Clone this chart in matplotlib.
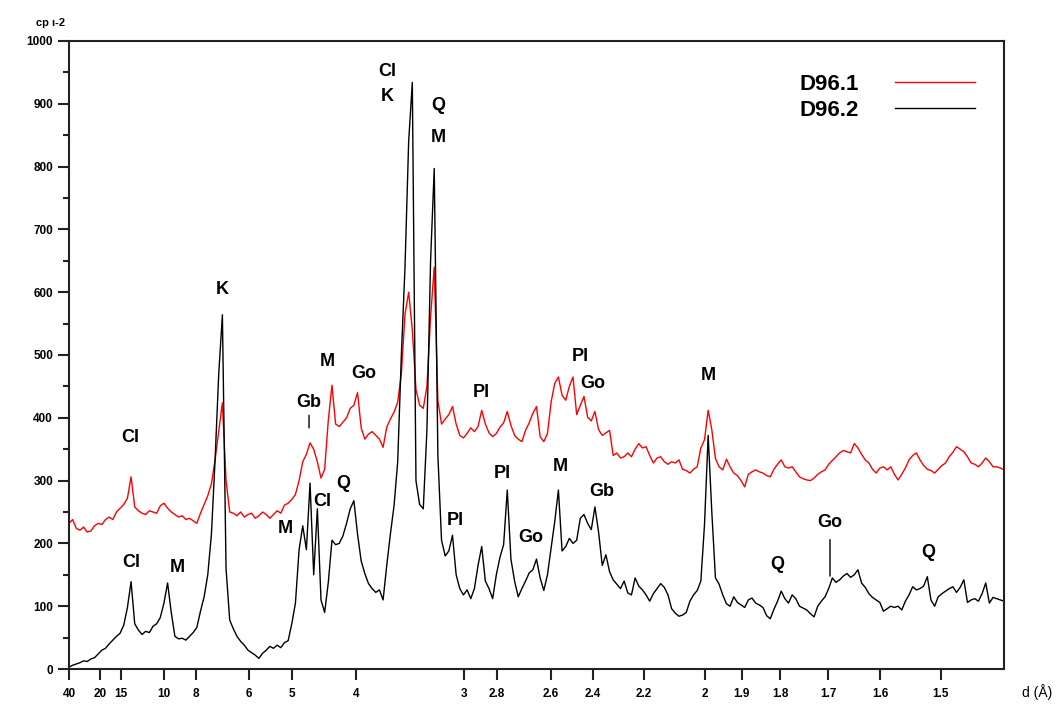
import numpy as np
import matplotlib.pyplot as plt

# scan grid (deg 2-theta) and counts
two_theta = np.round(np.arange(2.0, 66.01, 0.25), 2)

counts_d961 = [
    232, 238, 224, 221, 226, 218, 220, 228, 232, 230,
    238, 242, 238, 250, 256, 262, 272, 306, 258, 252,
    248, 246, 252, 250, 248, 260, 264, 256, 250, 246,
    242, 244, 238, 240, 236, 232, 248, 262, 276, 295,
    333, 378, 424, 300, 250, 248, 244, 250, 242, 246,
    248, 240, 244, 250, 246, 240, 246, 252, 248, 261,
    264, 270, 278, 300, 330, 342, 360, 350, 330, 304,
    318, 396, 452, 390, 386, 393, 400, 415, 420, 440,
    384, 366, 374, 378, 372, 366, 353, 385, 398, 409,
    425, 470, 565, 600, 540, 445, 420, 415, 450, 560,
    640, 427, 390, 398, 405, 418, 390, 372, 368, 375,
    384, 378, 386, 412, 390, 376, 370, 375, 385, 392,
    410, 388, 372, 366, 362, 380, 392, 407, 418, 370,
    362, 375, 425, 455, 465, 436, 428, 450, 465, 405,
    420, 434, 401, 395, 410, 381, 372, 376, 380, 340,
    344, 336, 338, 344, 338, 350, 359, 352, 354, 340,
    328, 336, 338, 330, 326, 330, 328, 333, 318, 316,
    312, 318, 322, 352, 365, 412, 381, 335, 322, 317,
    334, 322, 312, 308, 300, 290, 310, 314, 317, 314,
    312, 308, 306, 318, 326, 333, 322, 320, 322, 314,
    306, 303, 301, 300, 304, 310, 314, 317, 326, 332,
    338, 344, 348, 346, 344, 359, 352, 342, 333, 328,
    318, 312, 320, 322, 317, 322, 310, 301, 310, 320,
    333, 340, 344, 333, 324, 318, 316, 312, 318, 324,
    328, 338, 345, 354, 350, 346, 338, 328, 326, 322,
    328, 336, 330, 322, 322, 320, 317,
]

counts_d962 = [
    3, 6, 8, 10, 13, 12, 16, 18, 24, 30,
    33, 40, 46, 52, 57, 70, 98, 139, 72, 62,
    55, 60, 58, 68, 72, 82, 105, 137, 90, 52,
    48, 49, 46, 52, 58, 66, 92, 115, 150, 215,
    333, 470, 564, 160, 78, 64, 52, 44, 38, 30,
    26, 22, 17, 25, 30, 36, 33, 38, 34, 42,
    45, 72, 105, 190, 228, 190, 296, 150, 255, 110,
    90, 138, 205, 198, 200, 212, 232, 255, 268, 215,
    172, 152, 136, 128, 122, 126, 110, 165, 215, 260,
    330, 500, 640, 840, 934, 300, 262, 255, 380, 650,
    797, 340, 205, 180, 188, 213, 150, 128, 118, 126,
    112, 128, 165, 195, 140, 128, 112, 150, 178, 198,
    285, 175, 140, 115, 128, 140, 153, 158, 175, 145,
    125, 150, 192, 235, 285, 188, 195, 208, 200, 205,
    240, 246, 232, 222, 258, 218, 165, 182, 155, 142,
    135, 128, 140, 121, 118, 145, 132, 126, 118, 108,
    120, 128, 136, 130, 118, 96, 89, 84, 86, 90,
    108, 118, 125, 140, 230, 372, 250, 145, 135, 118,
    104, 100, 115, 106, 102, 98, 110, 113, 105, 102,
    98, 85, 80, 95, 108, 124, 112, 105, 118, 112,
    100, 97, 94, 88, 83, 100, 108, 115, 128, 145,
    138, 142, 148, 152, 146, 150, 158, 137, 130, 120,
    114, 110, 106, 92, 96, 100, 98, 100, 94, 108,
    118, 131, 126, 128, 132, 147, 110, 100, 115, 120,
    124, 128, 131, 122, 130, 142, 106, 110, 112, 108,
    120, 137, 105, 114, 112, 110, 108,
]

# d-spacing tick labels and where they sit on the 2-theta scale
tick_labels = ['40', '20', '15', '10', '8', '6', '5', '4', '3', '2.8', '2.6',
               '2.4', '2.2', '2', '1.9', '1.8', '1.7', '1.6', '1.5']
tick_pos = [2.0, 4.12, 5.56, 8.50, 10.69, 14.32, 17.26, 21.64, 29.04, 31.30,
            34.99, 37.87, 41.36, 45.53, 48.06, 50.67, 53.95, 57.51, 61.68]

# mineral labels: (text, 2-theta, counts)
labels_d961 = [('Cl', 6.18, 368), ('K', 12.47, 604), ('Gb', 18.43, 424),
               ('M', 19.66, 489), ('Go', 22.19, 471), ('Pl', 30.2, 440),
               ('Pl', 36.98, 498), ('Go', 37.87, 455), ('M', 45.74, 467)]
labels_d962 = [('Cl', 6.24, 170), ('M', 9.39, 162), ('M', 16.78, 223),
               ('Cl', 19.32, 266), ('Q', 20.75, 295), ('Pl', 28.42, 237),
               ('Pl', 31.64, 312), ('Go', 33.62, 209), ('M', 35.61, 323),
               ('Gb', 38.48, 282), ('Q', 50.46, 166), ('Go', 54.09, 234),
               ('Q', 60.8, 185)]
labels_top = [('Cl', 23.77, 951), ('K', 23.77, 912), ('Q', 27.26, 898),
              ('M', 27.26, 846)]

plt.rcParams['font.family'] = ['Liberation Sans', 'DejaVu Sans']

fig = plt.figure(figsize=(10.63, 7.04), dpi=100)
ax = fig.add_axes([0.0649, 0.0497, 0.8796, 0.8921])

ax.plot(two_theta, counts_d961, color='#ff0000', lw=1.0, label='D96.1')
ax.plot(two_theta, counts_d962, color='black', lw=1.0, label='D96.2')

ax.set_xlim(2, 66)
ax.set_ylim(0, 1000)
ax.set_xticks(tick_pos)
ax.set_xticklabels(tick_labels)
ax.set_yticks(np.arange(0, 1001, 100))
ax.set_yticks(np.arange(50, 1000, 100), minor=True)
ax.tick_params(axis='both', which='major', direction='out', length=8, width=1.5,
               labelsize=8.5, color='#222222')
ax.tick_params(axis='y', which='minor', direction='out', length=4, width=1.5, color='#222222')
ax.tick_params(axis='x', pad=6)
for t in ax.get_xticklabels() + ax.get_yticklabels():
    t.set_fontweight('bold')
for s in ax.spines.values():
    s.set_linewidth(1.5)
    s.set_color('#222222')

for txt, x, y in labels_d961 + labels_d962 + labels_top:
    ax.text(x, y, txt, fontsize=13, fontweight='bold', ha='center', va='center')

# leader marks under a couple of labels
ax.annotate('', xy=(18.43, 384), xytext=(18.43, 404),
            arrowprops=dict(arrowstyle='-', lw=1, color='black', shrinkA=0, shrinkB=0))
ax.annotate('', xy=(54.09, 148), xytext=(54.09, 206),
            arrowprops=dict(arrowstyle='-', lw=1, color='black', shrinkA=0, shrinkB=0))

ax.text(-0.035, 1.02, 'cp \u0131-2', transform=ax.transAxes, fontsize=8,
        fontweight='bold', ha='left', va='bottom')
ax.text(1.035, -0.037, 'd (\u00c5)', transform=ax.transAxes, fontsize=10,
        ha='center', va='center')

ax.legend(loc='upper right', bbox_to_anchor=(0.99, 0.98), frameon=False,
          markerfirst=False, handlelength=3.6, handletextpad=1.6, labelspacing=0.25,
          prop={'weight': 'bold', 'size': 16})

fig.savefig('out.png', dpi=100)
